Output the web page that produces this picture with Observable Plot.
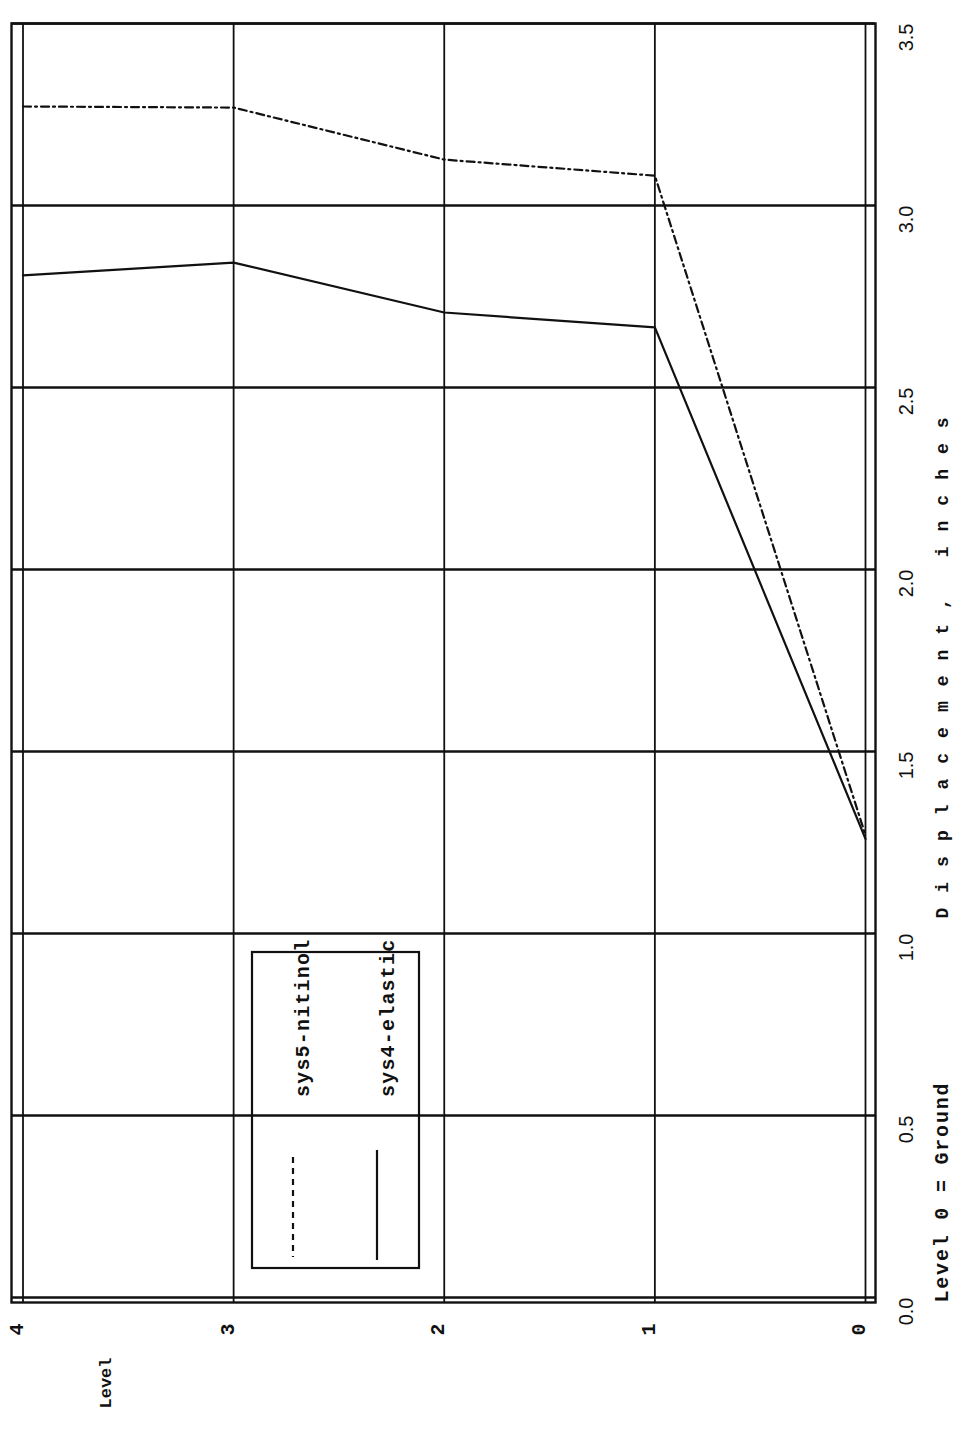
<!DOCTYPE html>
<html>
<head>
<meta charset="utf-8">
<script src="https://cdn.jsdelivr.net/npm/d3@7"></script>
<script src="https://cdn.jsdelivr.net/npm/@observablehq/plot@0.6"></script>
<style>
  body { margin: 0; background: #fff; }
  #chart { width: 961px; height: 1437px; }
</style>
</head>
<body>
<div id="chart"></div>
<script>
// ---- data ----
const levels = [4, 3, 2, 1, 0];
const dispTicks = [0, 0.5, 1, 1.5, 2, 2.5, 3, 3.5];
const nitinol = [3.272, 3.269, 3.126, 3.082, 1.27];
const elastic = [2.808, 2.843, 2.706, 2.665, 1.26];
const seriesNames = ["sys5-nitinol", "sys4-elastic"];
const xTitle = "Displacement, inches";
const levelNote = "Level 0 = Ground";
const yTitle = "Level";

const nitData = levels.map((l, i) => ({level: l, disp: nitinol[i]}));
const elaData = levels.map((l, i) => ({level: l, disp: elastic[i]}));

const ink = "#111";
const dash = "8,4,2,4";

const chart = Plot.plot({
  width: 961,
  height: 1437,
  marginLeft: 11,
  marginRight: 86,
  marginTop: 23,
  marginBottom: 135,
  x: {domain: [4.0546, -0.0475], axis: null},
  y: {domain: [-0.0137, 3.5], axis: null},
  style: {background: "#fff", color: ink, fontFamily: "Liberation Mono", fontSize: "18px"},
  marks: [
    Plot.ruleX(levels, {stroke: ink, strokeWidth: 1.8}),
    Plot.ruleY(dispTicks, {stroke: ink, strokeWidth: 2.4}),
    Plot.frame({stroke: ink, strokeWidth: 2.4}),
    Plot.line(nitData, {x: "level", y: "disp", stroke: ink, strokeWidth: 2.2, strokeDasharray: dash}),
    Plot.line(elaData, {x: "level", y: "disp", stroke: ink, strokeWidth: 2.2}),
    // level tick labels
    Plot.text(levels, {x: d => d, frameAnchor: "bottom", dy: 27, rotate: -90, text: d => String(d),
      fontSize: 20, fontWeight: "bold", fontFamily: "Liberation Mono", fill: ink}),
    // displacement tick labels
    Plot.text(dispTicks, {y: d => d, frameAnchor: "right", dx: 31, rotate: -90, text: d => d.toFixed(1),
      fontSize: 20, fontFamily: "Liberation Sans", fill: ink}),
    // axis title
    Plot.text([xTitle], {frameAnchor: "bottom-right", dx: 72, dy: -384, rotate: -90, textAnchor: "start",
      text: d => d, fontSize: 18, fontWeight: "bold", fontFamily: "Liberation Mono", fill: ink}),
    Plot.text([levelNote], {frameAnchor: "bottom-right", dx: 72, dy: 0, rotate: -90, textAnchor: "start",
      text: d => d, fontSize: 20, fontWeight: "bold", fontFamily: "Liberation Mono", fill: ink}),
    Plot.text([yTitle], {frameAnchor: "bottom-left", dx: 99, dy: 106, rotate: -90,
      text: d => d, fontSize: 17, fontWeight: "bold", fontFamily: "Liberation Mono", fill: ink})
  ]
});

const svg = d3.select(chart);
// letter spacing for the spaced-out labels
svg.selectAll("text").each(function() {
  const t = this.textContent;
  if (t === xTitle) this.style.letterSpacing = "15px";
  else if (t === levelNote) this.style.letterSpacing = "1.8px";
});

// legend box (drawn over the plot, transparent so the grid shows through)
const lg = svg.append("g").attr("aria-label", "legend");
lg.append("rect").attr("x", 252).attr("y", 952).attr("width", 167).attr("height", 316)
  .attr("fill", "none").attr("stroke", ink).attr("stroke-width", 2.2);
const legendItems = [
  {name: seriesNames[0], dashed: true, lx: 293, tx: 303, y1: 1157, y2: 1257},
  {name: seriesNames[1], dashed: false, lx: 377, tx: 388, y1: 1150, y2: 1260}
];
legendItems.forEach(it => {
  lg.append("line").attr("x1", it.lx).attr("x2", it.lx).attr("y1", it.y1).attr("y2", it.y2)
    .attr("stroke", ink).attr("stroke-width", 2.2)
    .attr("stroke-dasharray", it.dashed ? "6,5" : null);
  lg.append("text").attr("transform", `translate(${it.tx},1097) rotate(-90)`)
    .attr("dy", "0.32em").attr("text-anchor", "start")
    .attr("font-family", "Liberation Mono").attr("font-weight", "bold").attr("font-size", 20)
    .attr("fill", ink).style("letter-spacing", "1.2px").text(it.name);
});

document.getElementById("chart").appendChild(chart);
</script>
</body>
</html>
